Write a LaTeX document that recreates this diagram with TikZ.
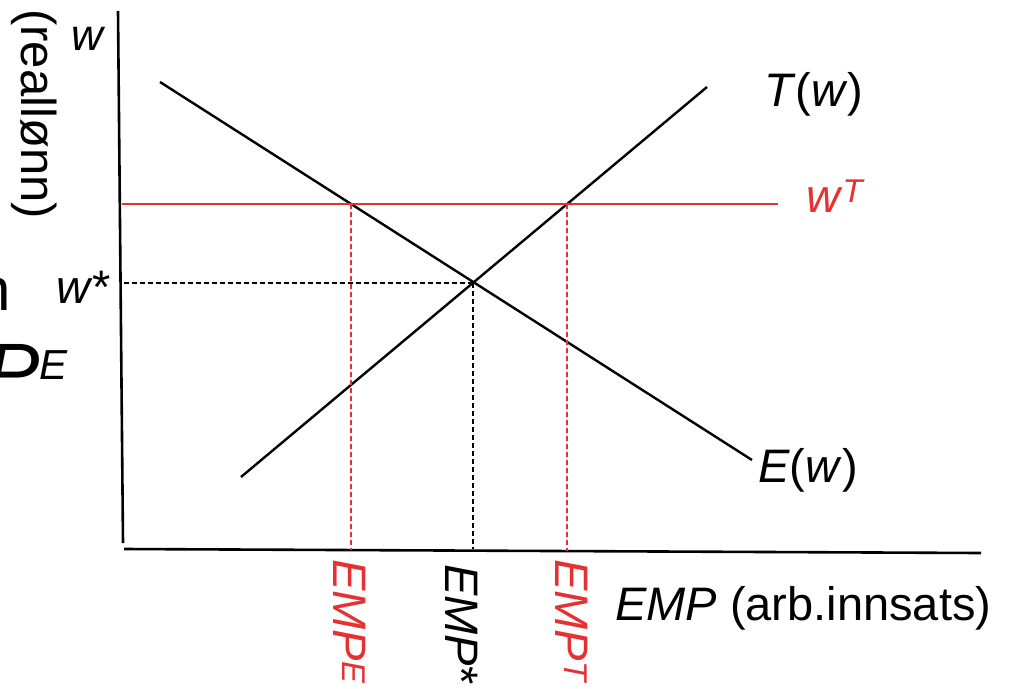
\documentclass[tikz,border=0pt]{standalone}
\usepackage{fontspec}
\setmainfont{Liberation Sans}
\definecolor{wred}{RGB}{228,50,50}
\begin{document}
\begin{tikzpicture}[x=1pt,y=-1pt,
  axis/.style={line width=2.6pt, black},
  curve/.style={line width=2.4pt, black},
  redline/.style={line width=1.7pt, wred},
  guide/.style={line width=1.6pt, dash pattern=on 5pt off 3pt},
  lbl/.style={inner sep=0pt, font=\fontsize{47}{56}\selectfont},
]
\useasboundingbox (0,0) rectangle (1017,688);
\clip (0,0) rectangle (1017,688);

% axes
\coordinate (ytop) at (118,11);
\coordinate (origin) at (123,543);
\coordinate (xstart) at (124,549);
\coordinate (xend) at (981,553);
\draw[axis] (ytop) -- (origin);
\draw[axis] (xstart) -- (xend);

% curves
\coordinate (E1) at (160,82);
\coordinate (E2) at (752,460);
\coordinate (T1) at (241,477);
\coordinate (T2) at (707,87);
\draw[curve] (E1) -- (E2);
\draw[curve] (T1) -- (T2);

% red wage line
\coordinate (R1) at (122,204);
\coordinate (R2) at (778,204);
\draw[redline] (R1) -- (R2);

% guides
\coordinate (eq) at (473,283);
\coordinate (wsy) at (122,283);
\coordinate (eqx) at (473,549);
\coordinate (rE) at (351,204);
\coordinate (rEx) at (351,550);
\coordinate (rT) at (567,204);
\coordinate (rTx) at (567,551);
\draw[guide] (eq) -- (wsy);
\draw[guide] (eq) -- (eqx);
\draw[guide, wred] (rE) -- (rEx);
\draw[guide, wred] (rT) -- (rTx);

% labels
\node[lbl, anchor=base west, font=\fontsize{44}{52}\selectfont] (lw) at (71,50) {\textit{w}};
\node[lbl, rotate=-90, anchor=base west, font=\fontsize{49}{58}\selectfont] (lreal) at (21,9) {(reallønn)};
\node[lbl, anchor=base west] (lws) at (56,303) {\textit{w}*};
\node[lbl, anchor=base west] (lT) at (764,106) {\textit{T}(\textit{w})};
\node[lbl, anchor=base west] (lE) at (758,482) {\textit{E}(\textit{w})};
\node[lbl, anchor=base west, text=wred] (lwT) at (806,212) {\textit{w}\textsuperscript{\textit{T}}};
\node[lbl, anchor=base west] (lx) at (615,620) {\textit{EMP} (arb.innsats)};
\node[lbl, rotate=-90, anchor=base west, text=wred] (lEE) at (333,559) {\textit{EMP}\textsuperscript{\textit{E}}};
\node[lbl, rotate=-90, anchor=base west] (lEs) at (445,564) {\textit{EMP}*};
\node[lbl, rotate=-90, anchor=base west, text=wred] (lET) at (555,559) {\textit{EMP}\textsuperscript{\textit{T}}};

% cropped fragments at left edge
\node[inner sep=0pt, anchor=base east, font=\fontsize{60}{70}\selectfont] (fn) at (11,310) {n};
\node[inner sep=0pt, anchor=base east] (fPE) at (68,399) {{\fontsize{80}{92}\selectfont\textit{P}}\raisebox{20pt}{\fontsize{42}{50}\selectfont\textit{E}}};
\end{tikzpicture}
\end{document}
